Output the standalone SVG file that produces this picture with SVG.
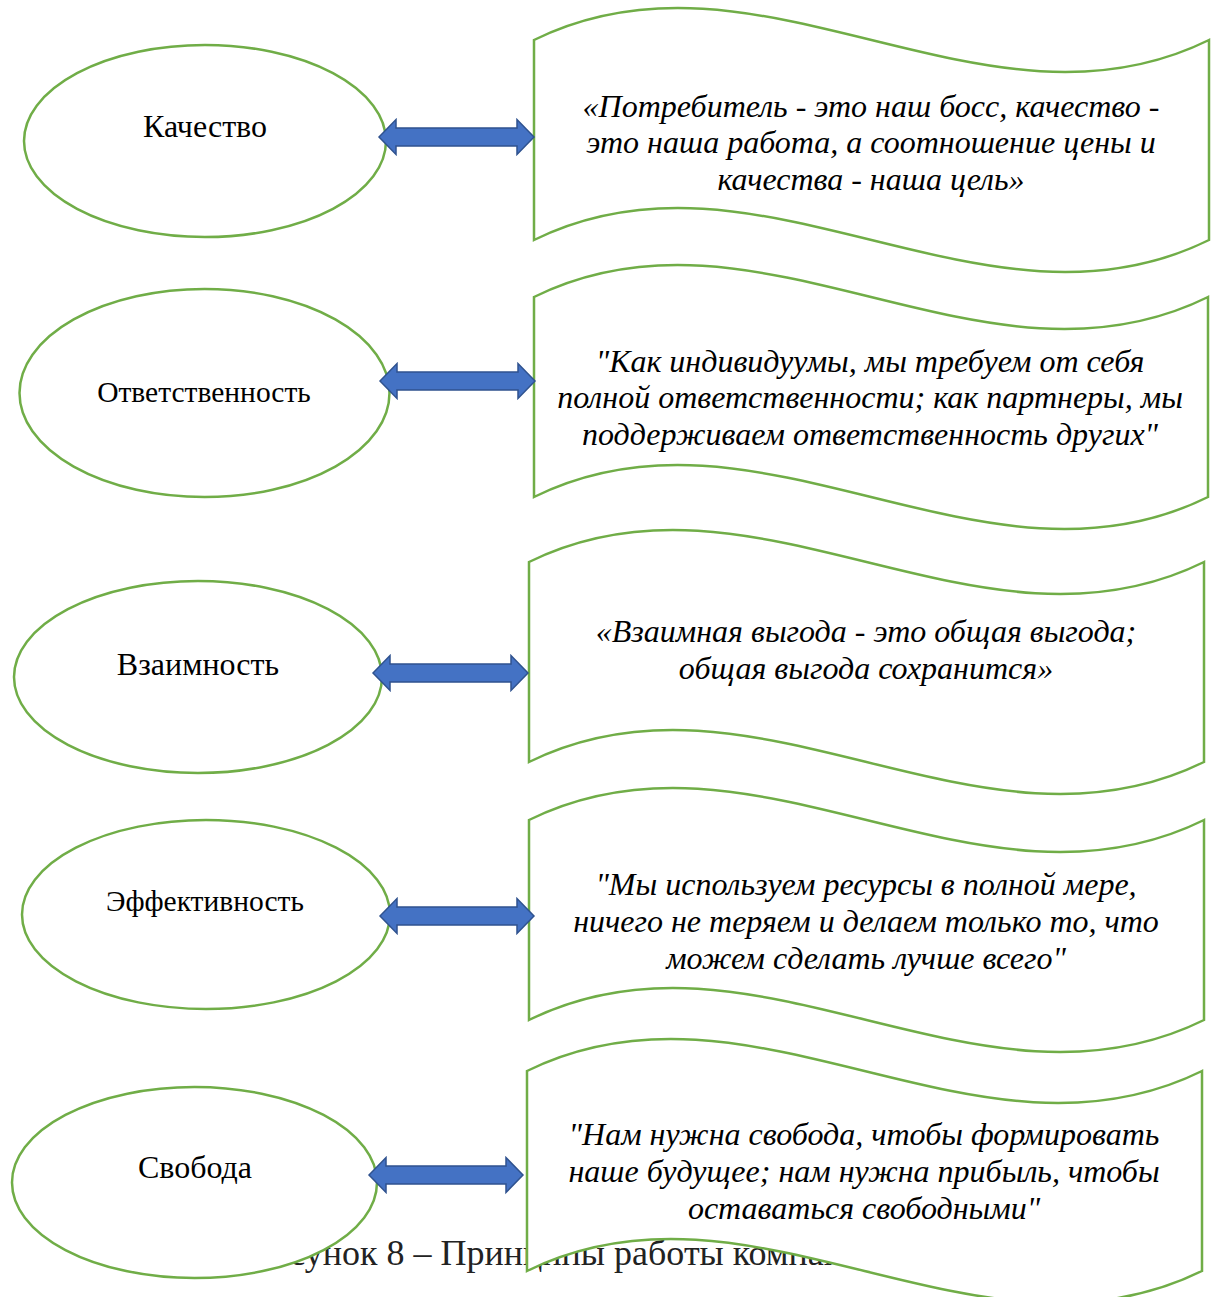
<svg xmlns="http://www.w3.org/2000/svg" width="1211" height="1297" viewBox="0 0 1211 1297">
<style>
.bg{fill:#ffffff}
.ell{fill:#ffffff;stroke:#70AD47;stroke-width:2.5}
.wave{fill:#ffffff;stroke:#70AD47;stroke-width:2.5;stroke-linejoin:miter}
.arr{fill:#4472C4;stroke:#2F528F;stroke-width:1.5;stroke-linejoin:miter}
.lbl{font-family:"Liberation Serif","Times New Roman",serif;font-size:32px;fill:#000;text-anchor:middle}
.lbl2{font-size:29.5px}
.q{font-family:"Liberation Serif","Times New Roman",serif;font-size:32px;font-style:italic;fill:#000;text-anchor:middle}
.cap{font-family:"Liberation Serif","Times New Roman",serif;font-size:36px;fill:#222}
</style>
<rect class="bg" x="0" y="0" width="1211" height="1297"/>
<text class="cap" x="250" y="1265">Рисунок 8 – Принципы работы компании</text>

<g id="node-kachestvo">
<ellipse class="ell" cx="205" cy="141" rx="181" ry="96"/>
<text class="lbl" x="205" y="137">Качество</text>
</g>
<g id="node-otvetstvennost">
<ellipse class="ell" cx="204.5" cy="393" rx="185" ry="104"/>
<text class="lbl lbl2" x="204" y="402">Ответственность</text>
</g>
<g id="node-vzaimnost">
<ellipse class="ell" cx="198" cy="677" rx="184" ry="96"/>
<text class="lbl" x="198" y="675">Взаимность</text>
</g>
<g id="node-effektivnost">
<ellipse class="ell" cx="206" cy="914.5" rx="184" ry="94.5"/>
<text class="lbl lbl2" x="205" y="911">Эффективность</text>
</g>
<g id="node-svoboda">
<ellipse class="ell" cx="194.5" cy="1182.5" rx="182.5" ry="95.5"/>
<text class="lbl" x="195" y="1178">Свобода</text>
</g>

<g id="quote-1">
<path class="wave" d="M534,40 C759,-71 984,151 1209,40 L1209,240 C984,351 759,129 534,240 Z"/>
<text class="q" x="871" y="117">«Потребитель - это наш босс, качество -</text>
<text class="q" x="871" y="153">это наша работа, а соотношение цены и</text>
<text class="q" x="871" y="190">качества - наша цель»</text>
</g>
<g id="quote-2">
<path class="wave" d="M534,297 C758.7,186 983.3,408 1208,297 L1208,497 C983.3,608 758.7,386 534,497 Z"/>
<text class="q" x="870" y="372">"Как индивидуумы, мы требуем от себя</text>
<text class="q" x="870" y="408">полной ответственности; как партнеры, мы</text>
<text class="q" x="870" y="445">поддерживаем ответственность других"</text>
</g>
<g id="quote-3">
<path class="wave" d="M529,562 C754,451 979,673 1204,562 L1204,762 C979,873 754,651 529,762 Z"/>
<text class="q" x="866" y="642">«Взаимная выгода - это общая выгода;</text>
<text class="q" x="866" y="679">общая выгода сохранится»</text>
</g>
<g id="quote-4">
<path class="wave" d="M529,820 C754,709 979,931 1204,820 L1204,1020 C979,1131 754,909 529,1020 Z"/>
<text class="q" x="866" y="895">"Мы используем ресурсы в полной мере,</text>
<text class="q" x="866" y="932">ничего не теряем и делаем только то, что</text>
<text class="q" x="866" y="969">можем сделать лучше всего"</text>
</g>
<g id="quote-5">
<path class="wave" d="M527,1071 C752,960 977,1182 1202,1071 L1202,1271 C977,1382 752,1160 527,1271 Z"/>
<text class="q" x="864" y="1145">"Нам нужна свобода, чтобы формировать</text>
<text class="q" x="864" y="1182">наше будущее; нам нужна прибыль, чтобы</text>
<text class="q" x="864" y="1219">оставаться свободными"</text>
</g>

<g id="connectors">
<path class="arr" d="M379,137 L396,119.5 L396,128 L517,128 L517,119.5 L534,137 L517,154.5 L517,146 L396,146 L396,154.5 Z"/>
<path class="arr" d="M380,381 L397,363.5 L397,372 L518,372 L518,363.5 L535,381 L518,398.5 L518,390 L397,390 L397,398.5 Z"/>
<path class="arr" d="M373,673 L390,655.5 L390,664 L511,664 L511,655.5 L528,673 L511,690.5 L511,682 L390,682 L390,690.5 Z"/>
<path class="arr" d="M380,916 L397,898.5 L397,907 L517,907 L517,898.5 L534,916 L517,933.5 L517,925 L397,925 L397,933.5 Z"/>
<path class="arr" d="M369,1175 L386,1157.5 L386,1166 L506,1166 L506,1157.5 L523,1175 L506,1192.5 L506,1184 L386,1184 L386,1192.5 Z"/>
</g>
</svg>
